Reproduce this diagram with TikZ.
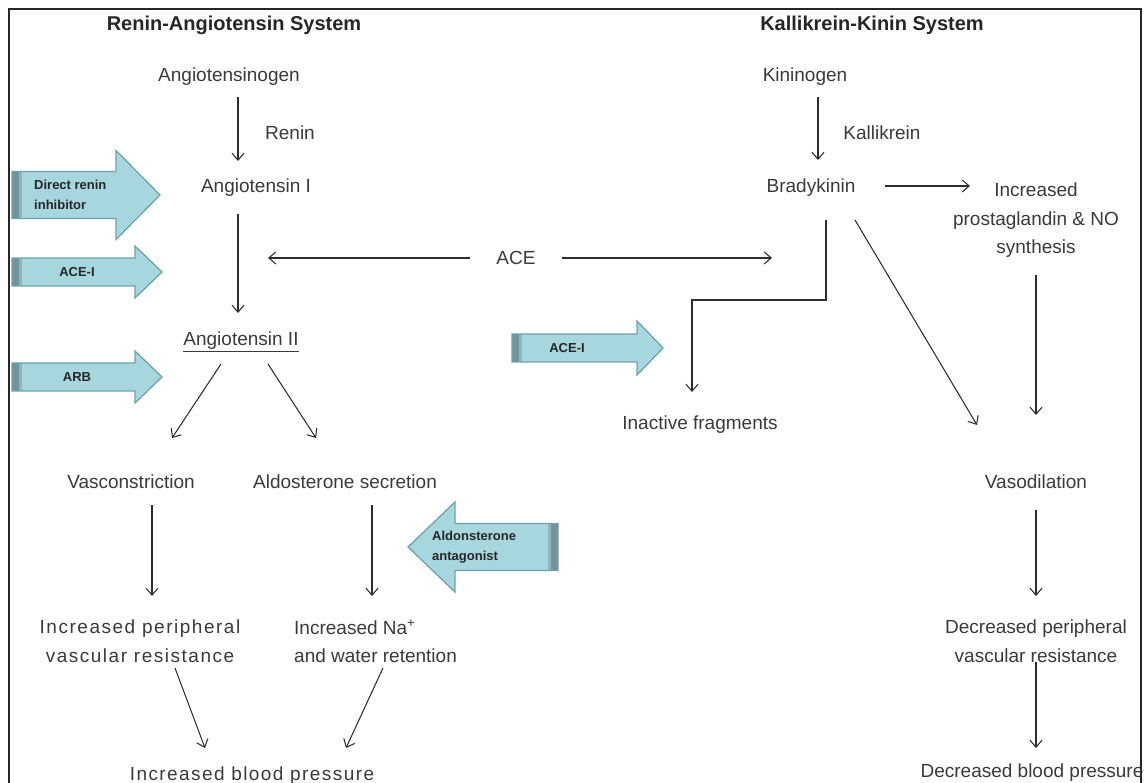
\documentclass[tikz,border=0pt]{standalone}
\usepackage{fontspec}
\setmainfont{Liberation Sans}
\usetikzlibrary{arrows.meta}

\definecolor{ink}{RGB}{58,58,58}
\definecolor{lineclr}{RGB}{45,45,45}
\definecolor{blockfill}{RGB}{166,214,222}
\definecolor{blockedge}{RGB}{112,162,172}
\definecolor{blockband}{RGB}{112,148,156}
\definecolor{blockbandlt}{RGB}{140,182,190}

% right-pointing block arrow: left x, head start x, tip x, centre y, body half height, head half height
\newcommand\blockright[6]{%
  \fill[blockfill] (#1,{-(#4)+(#5)}) -- (#2,{-(#4)+(#5)}) -- (#2,{-(#4)+(#6)}) -- (#3,{-(#4)})
     -- (#2,{-(#4)-(#6)}) -- (#2,{-(#4)-(#5)}) -- (#1,{-(#4)-(#5)}) -- cycle;
  \fill[blockband] (#1,{-(#4)+(#5)}) rectangle ({#1+7},{-(#4)-(#5)});
  \fill[blockbandlt] ({#1+7},{-(#4)+(#5)}) rectangle ({#1+10},{-(#4)-(#5)});
  \draw[blockedge, line width=1.3pt] (#1,{-(#4)+(#5)}) -- (#2,{-(#4)+(#5)}) -- (#2,{-(#4)+(#6)}) -- (#3,{-(#4)})
     -- (#2,{-(#4)-(#6)}) -- (#2,{-(#4)-(#5)}) -- (#1,{-(#4)-(#5)}) -- cycle;
}
% left-pointing block arrow: right x, head start x, tip x, centre y, body half height, head half height
\newcommand\blockleft[6]{%
  \fill[blockfill] (#1,{-(#4)+(#5)}) -- (#2,{-(#4)+(#5)}) -- (#2,{-(#4)+(#6)}) -- (#3,{-(#4)})
     -- (#2,{-(#4)-(#6)}) -- (#2,{-(#4)-(#5)}) -- (#1,{-(#4)-(#5)}) -- cycle;
  \fill[blockband] ({#1-7},{-(#4)+(#5)}) rectangle (#1,{-(#4)-(#5)});
  \fill[blockbandlt] ({#1-10},{-(#4)+(#5)}) rectangle ({#1-7},{-(#4)-(#5)});
  \draw[blockedge, line width=1.3pt] (#1,{-(#4)+(#5)}) -- (#2,{-(#4)+(#5)}) -- (#2,{-(#4)+(#6)}) -- (#3,{-(#4)})
     -- (#2,{-(#4)-(#6)}) -- (#2,{-(#4)-(#5)}) -- (#1,{-(#4)-(#5)}) -- cycle;
}

\tikzset{
  lbl/.style={font=\fontsize{19}{28}\selectfont, text=ink, inner sep=0pt, text height=14pt, text depth=0pt},
  lblm/.style={font=\fontsize{19}{28.5}\selectfont, text=ink, inner sep=0pt},
  wide/.style={font=\fontsize{19}{28.5}\selectfont\addfontfeature{LetterSpace=#1}},
  ttl/.style={font=\bfseries\fontsize{20}{24}\selectfont, text=black!85, inner sep=0pt, text height=14pt, text depth=0pt},
  drug/.style={font=\bfseries\fontsize{13}{19.5}\selectfont, text=black!85, inner sep=0pt},
  arr/.style={draw=lineclr, line width=1.05pt, -{Straight Barb[length=7pt,width=12pt]}},
}

\begin{document}
\begin{tikzpicture}[x=1pt,y=1pt]
\useasboundingbox (0,0) rectangle (1146,-783);

% outer frame (open at the bottom)
\draw[line width=2.2pt, black!85] (9,-783) -- (9,-9) -- (1141,-9) -- (1141,-783);

% drug block arrows
\blockright{12}{116}{160}{195}{23.5}{44.5}
\blockright{12}{135}{162}{272}{14}{26}
\blockright{12}{135}{162}{377}{14}{26}
\blockright{512}{637}{663}{348}{14}{27}
\blockleft{558}{455}{408}{547}{23.5}{45}

\node[drug, anchor=west, align=left] (dri) at (34,-195) {Direct renin\\inhibitor};
\node[drug] (acei1) at (77,-272) {ACE-I};
\node[drug] (arb) at (77,-377) {ARB};
\node[drug] (acei2) at (567,-348) {ACE-I};
\node[drug, anchor=west, align=left] (aldant) at (432,-547) {Aldonsterone\\antagonist};

% headings
\node[ttl] (ras) at (234,-24) {Renin-Angiotensin System};
\node[ttl] (kks) at (872,-24) {Kallikrein-Kinin System};

% renin-angiotensin side
\node[lbl] (angen) at (229,-75) {Angiotensinogen};
\node[lbl] (renin) at (290,-133) {Renin};
\node[lbl] (ang1) at (256,-186) {Angiotensin I};
\node[lbl] (ace) at (516,-258) {ACE};
\node[lbl] (ang2) at (241,-339) {\underline{Angiotensin II}};
\node[lbl] (vasc) at (131,-481) {Vasconstriction};
\node[lbl] (aldo) at (345,-481) {Aldosterone secretion};
\node[lblm, wide=8, anchor=north, align=center] (ipvr) at (140,-620) {Increased peripheral\\vascular resistance};
\node[lblm, anchor=north west, align=left] (na) at (294,-620) {Increased Na\textsuperscript{+}\\and water retention};
\node[lbl, wide=7.5] (ibp) at (252,-773) {Increased blood pressure};

% kallikrein-kinin side
\node[lbl] (kin) at (805,-75) {Kininogen};
\node[lbl] (kal) at (882,-133) {Kallikrein};
\node[lbl] (brady) at (811,-186) {Bradykinin};
\node[lblm, anchor=north, align=center] (prost) at (1036,-183) {Increased\\prostaglandin \& NO\\synthesis};
\node[lbl] (inact) at (700,-423) {Inactive fragments};
\node[lbl] (vdil) at (1036,-481) {Vasodilation};
\node[lblm, anchor=north, align=center] (dpvr) at (1036,-620) {Decreased peripheral\\vascular resistance};
\node[lbl] (dbp) at (1032,-770) {Decreased blood pressure};

\coordinate (aceL) at (268,-258);
\coordinate (aceR) at (772,-258);

% connectors, renin-angiotensin side
\draw[arr] ([shift={(9,-22)}]angen.center) -- ([shift={(-18,25)}]ang1.center);
\draw[arr] ([shift={(-18,-28)}]ang1.center) -- ([shift={(-3,26)}]ang2.center);
\draw[arr] ([shift={(-46,0)}]ace.center) -- (aceL);
\draw[arr] ([shift={(46,0)}]ace.center) -- (aceR);
\draw[arr] ([shift={(-20,-25)}]ang2.center) -- ([shift={(41,43)}]vasc.center);
\draw[arr] ([shift={(27,-25)}]ang2.center) -- ([shift={(-29,43)}]aldo.center);
\draw[arr] ([shift={(21,-24)}]vasc.center) -- ([shift={(12,24)}]ipvr.north);
\draw[arr] ([shift={(27,-24)}]aldo.center) -- ([shift={(78,24)}]na.north west);
\draw[arr] ([shift={(35,-48)}]ipvr.north) -- ([shift={(-47,25)}]ibp.center);
\draw[arr] ([shift={(89,-48)}]na.north west) -- ([shift={(94,25)}]ibp.center);

% connectors, kallikrein-kinin side
\draw[arr] ([shift={(13,-22)}]kin.center) -- ([shift={(7,26)}]brady.center);
\draw[arr] ([shift={(74,0)}]brady.center) -- ([shift={(-66,-3)}]prost.north);
\draw[arr] ([shift={(15,-34)}]brady.center) -- ++(0,-80) -| ([shift={(-8,31)}]inact.center);
\draw[arr] ([shift={(44,-34)}]brady.center) -- ([shift={(-59,56)}]vdil.center);
\draw[arr] ([shift={(0,-92)}]prost.north) -- ([shift={(0,66)}]vdil.center);
\draw[arr] ([shift={(0,-29)}]vdil.center) -- ([shift={(0,24)}]dpvr.north);
\draw[arr] ([shift={(0,-42)}]dpvr.north) -- ([shift={(4,22)}]dbp.center);
\end{tikzpicture}
\end{document}
